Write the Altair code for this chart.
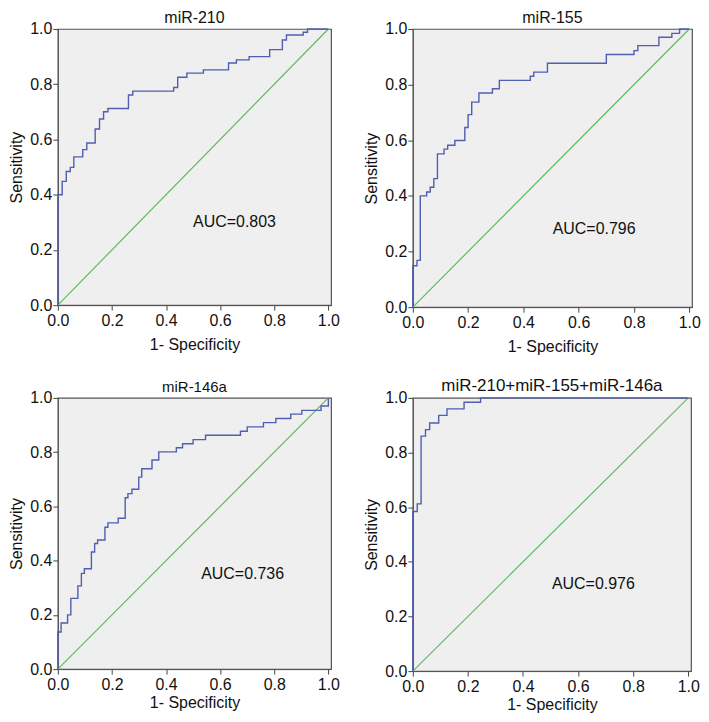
import altair as alt
import pandas as pd

# ---------------- data ----------------
titles = ["miR-210", "miR-155", "miR-146a", "miR-210+miR-155+miR-146a"]
auc_labels = ["AUC=0.803", "AUC=0.796", "AUC=0.736", "AUC=0.976"]
auc_x = [0.50, 0.506, 0.53, 0.505]
auc_y = [0.30, 0.28, 0.35, 0.318]

fpr_210 = [0, 0, 0.016, 0.031, 0.046, 0.059, 0.092, 0.107, 0.138, 0.154, 0.169, 0.185,
           0.261, 0.277, 0.428, 0.443, 0.477, 0.538, 0.631, 0.66, 0.707, 0.783, 0.83,
           0.845, 0.907, 0.923, 1.0]
tpr_210 = [0, 0.40, 0.448, 0.484, 0.499, 0.537, 0.563, 0.587, 0.638, 0.674, 0.70, 0.712,
           0.761, 0.775, 0.788, 0.825, 0.84, 0.852, 0.877, 0.888, 0.90, 0.925, 0.96,
           0.978, 0.988, 1.0, 1.0]

fpr_155 = [0, 0, 0.015, 0.027, 0.05, 0.063, 0.076, 0.089, 0.113, 0.126, 0.152, 0.188,
           0.2, 0.213, 0.239, 0.288, 0.313, 0.425, 0.4375, 0.487, 0.70, 0.80, 0.814,
           0.89, 0.937, 0.965, 1.0]
tpr_155 = [0, 0.149, 0.168, 0.40, 0.414, 0.431, 0.462, 0.551, 0.568, 0.582, 0.599, 0.646,
           0.692, 0.737, 0.77, 0.785, 0.815, 0.83, 0.845, 0.877, 0.908, 0.922, 0.94,
           0.97, 0.984, 1.0, 1.0]

fpr_146a = [0, 0, 0.012, 0.036, 0.048, 0.074, 0.087, 0.098, 0.124, 0.136, 0.147, 0.174,
            0.185, 0.223, 0.249, 0.259, 0.274, 0.299, 0.31, 0.348, 0.373, 0.438, 0.461,
            0.50, 0.546, 0.675, 0.70, 0.76, 0.806, 0.861, 0.902, 0.973, 1.0]
tpr_146a = [0, 0.137, 0.17, 0.20, 0.261, 0.307, 0.353, 0.37, 0.432, 0.463, 0.476, 0.523,
            0.539, 0.556, 0.632, 0.647, 0.663, 0.708, 0.739, 0.771, 0.801, 0.816, 0.831,
            0.846, 0.862, 0.877, 0.893, 0.909, 0.924, 0.94, 0.954, 0.97, 1.0]

fpr_comb = [0, 0, 0.016, 0.03, 0.046, 0.061, 0.094, 0.124, 0.186, 0.246, 1.0]
tpr_comb = [0, 0.584, 0.612, 0.86, 0.884, 0.908, 0.936, 0.96, 0.984, 1.0, 1.0]

curves_fpr = [fpr_210, fpr_155, fpr_146a, fpr_comb]
curves_tpr = [tpr_210, tpr_155, tpr_146a, tpr_comb]

ref_x = [0, 1]
ref_y = [0, 1]

# panel sizes (plot area)
sizes = [(274, 277), (280, 279), (274, 272), (279, 274)]
title_sizes = [16, 16, 15, 17]
x_title_pad = [8, 8, 3, 3]

BLUE = "#4f5fb2"
GREEN = "#5cbd5e"
FONT = "Liberation Sans"

xs = alt.Scale(domain=[0, 1.01], nice=False, zero=False)
ys = alt.Scale(domain=[0, 1], nice=False, zero=False)


def x_axis(i):
    return alt.Axis(values=[0, 0.2, 0.4, 0.6, 0.8, 1.0], format=".1f", grid=False,
                    title="1- Specificity", labelFontSize=16, titleFontSize=16,
                    titleFontWeight="normal", tickSize=5, labelPadding=2,
                    titlePadding=x_title_pad[i],
                    domainColor="#555", tickColor="#444", labelColor="#111",
                    titleColor="#111", labelFont=FONT, titleFont=FONT, labelFlush=False)


y_axis = alt.Axis(values=[0, 0.2, 0.4, 0.6, 0.8, 1.0], format=".1f", grid=False,
                  title="Sensitivity", labelFontSize=16, titleFontSize=16,
                  titleFontWeight="normal", tickSize=5, labelPadding=1, titlePadding=5,
                  domainColor="#555", tickColor="#444", labelColor="#111", titleColor="#111",
                  labelFont=FONT, titleFont=FONT, labelFlush=False)


def panel(i):
    df = pd.DataFrame({"fpr": curves_fpr[i], "tpr": curves_tpr[i],
                       "idx": list(range(len(curves_fpr[i])))})
    ref = pd.DataFrame({"fpr": ref_x, "tpr": ref_y, "idx": [0, 1]})
    lab = pd.DataFrame({"fpr": [auc_x[i]], "tpr": [auc_y[i]], "t": [auc_labels[i]]})
    xa = x_axis(i)
    diag = alt.Chart(ref).mark_line(color=GREEN, strokeWidth=1.2).encode(
        x=alt.X("fpr:Q", scale=xs, axis=xa),
        y=alt.Y("tpr:Q", scale=ys, axis=y_axis),
        order="idx:Q")
    roc = alt.Chart(df).mark_line(color=BLUE, strokeWidth=1.4, interpolate="step-after").encode(
        x=alt.X("fpr:Q", scale=xs, axis=xa),
        y=alt.Y("tpr:Q", scale=ys, axis=y_axis),
        order="idx:Q")
    txt = alt.Chart(lab).mark_text(align="left", baseline="middle", fontSize=16,
                                   font=FONT, color="#111").encode(
        x=alt.X("fpr:Q", scale=xs, axis=xa),
        y=alt.Y("tpr:Q", scale=ys, axis=y_axis),
        text="t:N")
    w, h = sizes[i]
    return alt.layer(diag, roc, txt).properties(
        width=w, height=h,
        title=alt.TitleParams(titles[i], fontSize=title_sizes[i], fontWeight="normal",
                              font=FONT, color="#111", offset=-5))


row1 = alt.hconcat(panel(0), panel(1), spacing=22)
row2 = alt.hconcat(panel(2), panel(3), spacing=22)
chart = alt.vconcat(row1, row2, spacing=21).properties(
    padding={"left": 0, "top": 0, "right": 0, "bottom": 0}
).configure(
    background="white"
).configure_view(
    fill="#efefef", stroke="#555555", strokeWidth=1.2
)

chart.save("out.html", embed_options={"renderer": "svg", "actions": False})
